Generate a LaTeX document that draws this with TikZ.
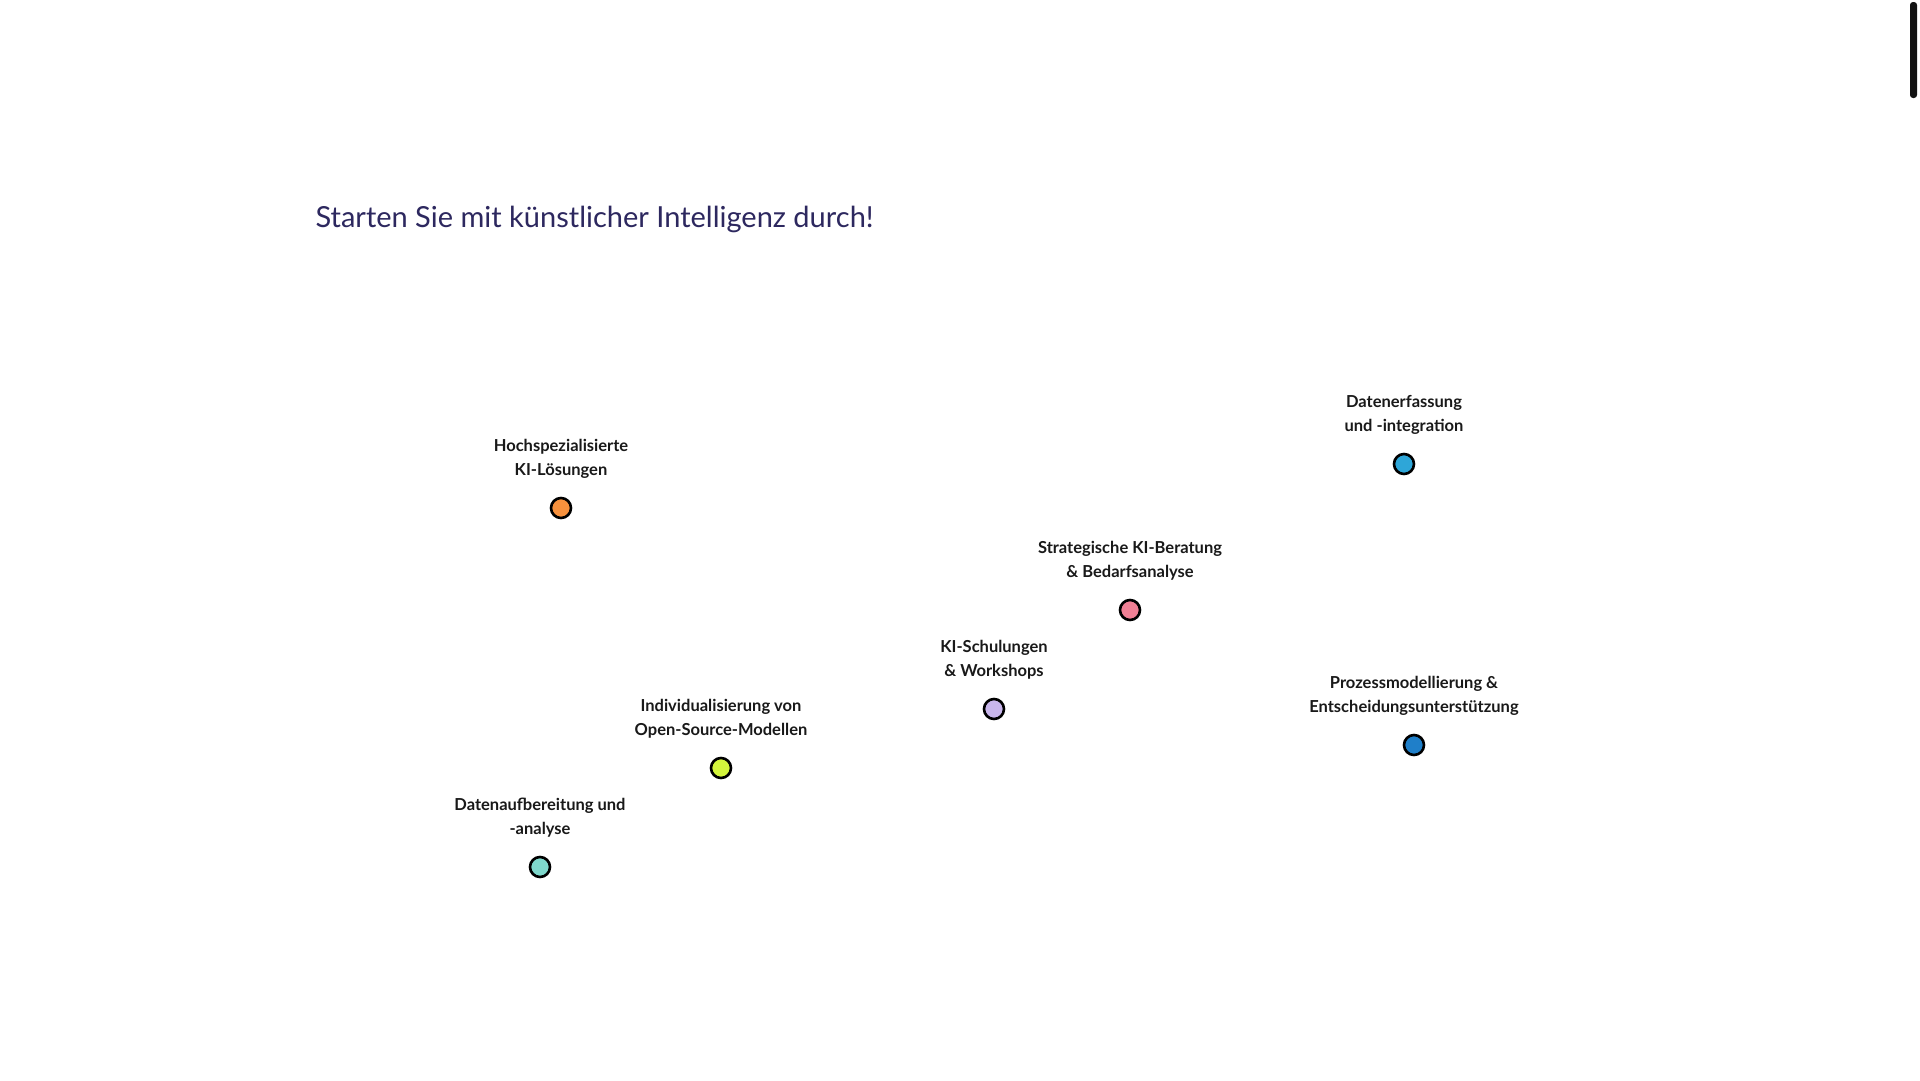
\documentclass[tikz,border=0pt]{standalone}
\usepackage{fontspec}
\setmainfont{Lato}
\begin{document}
\begin{tikzpicture}[x=1pt,y=-1pt,
  dot/.style={circle,draw=black,line width=2.6pt,minimum size=20pt,inner sep=0pt},
  lbl/.style={align=center,font=\fontsize{16.5}{24}\selectfont\bfseries,text=black!90,anchor=south}]
\useasboundingbox[fill=white] (0,0) rectangle (1920,1080);
\fill[black!93,rounded corners=3pt] (1910,2) rectangle (1917,98);
\node[anchor=west,text={rgb,255:red,45;green,40;blue,95},font=\fontsize{29}{34}\selectfont] (title) at (312,219) {Starten Sie mit künstlicher Intelligenz durch!};
\node[dot,fill={rgb,255:red,247;green,145;blue,61}] (d1) at (561,508) {};
\node[dot,fill={rgb,255:red,46;green,166;blue,216}] (d2) at (1404,464) {};
\node[dot,fill={rgb,255:red,240;green,128;blue,149}] (d3) at (1130,610) {};
\node[dot,fill={rgb,255:red,201;green,182;blue,236}] (d4) at (994,709) {};
\node[dot,fill={rgb,255:red,212;green,245;blue,60}] (d5) at (721,768) {};
\node[dot,fill={rgb,255:red,127;green,216;blue,204}] (d6) at (540,867) {};
\node[dot,fill={rgb,255:red,31;green,127;blue,201}] (d7) at (1414,745) {};
\node[lbl] (l1) at (561,482) {Hochspezialisierte\\KI-Lösungen};
\node[lbl] (l2) at (1404,438) {Datenerfassung\\und -integration};
\node[lbl] (l3) at (1130,584) {Strategische KI-Beratung\\\& Bedarfsanalyse};
\node[lbl] (l4) at (994,683) {KI-Schulungen\\\& Workshops};
\node[lbl] (l5) at (721,742) {Individualisierung von\\Open-Source-Modellen};
\node[lbl] (l6) at (540,841) {Datenaufbereitung und\\-analyse};
\node[lbl] (l7) at (1414,719) {Prozessmodellierung \&\\Entscheidungsunterstützung};
\end{tikzpicture}
\end{document}
